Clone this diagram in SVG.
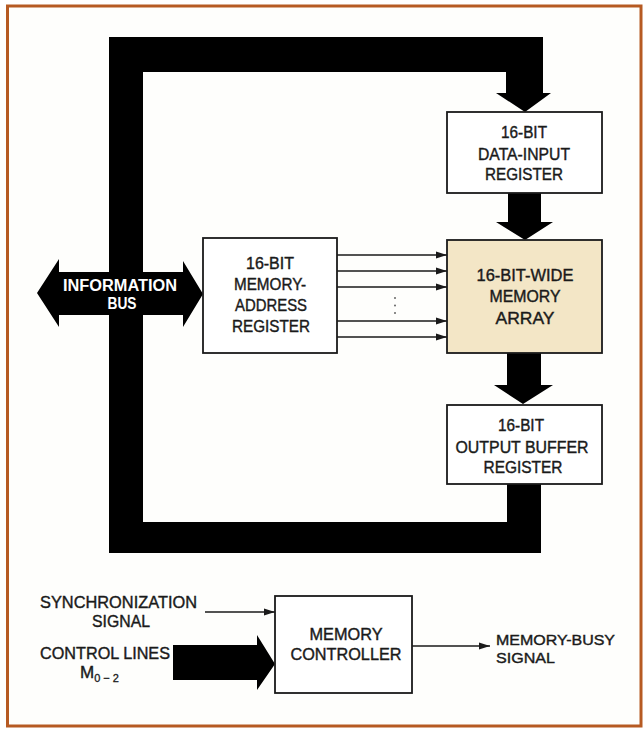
<svg xmlns="http://www.w3.org/2000/svg" width="643" height="730" viewBox="0 0 643 730">
  <defs>
    <marker id="ah" markerUnits="userSpaceOnUse" markerWidth="12" markerHeight="8" refX="11" refY="4" orient="auto">
      <path d="M0,0.5 L11,4 L0,7.5 Z" fill="#1a1a1a"/>
    </marker>
    <style>
      .box { fill: #ffffff; stroke: #1a1a1a; stroke-width: 1.8; }
      .beige { fill: #f3e6c6; }
      .t { font-family: "Liberation Sans", Arial, sans-serif; font-size: 17px; fill: #1a1a1a; stroke: #1a1a1a; stroke-width: 0.4; text-anchor: middle; }
      .tl { text-anchor: start; }
      .sm { font-size: 15px; }
      .w { font-family: "Liberation Sans", Arial, sans-serif; font-size: 16px; font-weight: bold; fill: #ffffff; text-anchor: middle; }
      .thin { stroke: #1a1a1a; stroke-width: 1.6; fill: none; marker-end: url(#ah); }
      .bus { fill: #000000; }
    </style>
  </defs>

  <rect x="0" y="0" width="643" height="730" fill="#ffffff"/>
  <rect x="7.5" y="6" width="633.5" height="720" fill="#fefefc" stroke="#b65a22" stroke-width="3"/>

  <g id="connectors">
    <path class="bus" d="M109,37 H543 V93 H551 L525,112 L496,93 H506 V72 H143 V522 H507 V484 H541 V553 H109 Z"/>
    <path class="bus" d="M508,193 H541 V222 H553 L525,240 L496,222 H508 Z"/>
    <path class="bus" d="M507,353 H541 V385 H553 L523,404 L494,385 H507 Z"/>
    <path class="bus" d="M173,645 H257 V635 L275,664 L257,690 V680 H173 Z"/>
    <line class="thin" x1="337" y1="255" x2="447" y2="255"/>
    <line class="thin" x1="337" y1="271" x2="447" y2="271"/>
    <line class="thin" x1="337" y1="287" x2="447" y2="287"/>
    <line class="thin" x1="337" y1="321" x2="447" y2="321"/>
    <line class="thin" x1="337" y1="337" x2="447" y2="337"/>
    <circle cx="395" cy="298" r="1" fill="#666"/>
    <circle cx="395" cy="305.5" r="1" fill="#666"/>
    <circle cx="395" cy="313" r="1" fill="#666"/>
    <line class="thin" x1="205" y1="612" x2="275" y2="612"/>
    <line class="thin" x1="412" y1="646" x2="490" y2="646"/>
  </g>

  <g id="information-bus">
    <path class="bus" d="M37,293 L59,259 V272 H183 V261 L203,294 L183,327 V315 H59 V327 Z"/>
    <text class="w" x="120" y="291" textLength="114" lengthAdjust="spacingAndGlyphs">INFORMATION</text>
    <text class="w" x="122" y="309" textLength="29" lengthAdjust="spacingAndGlyphs">BUS</text>
  </g>

  <g id="data-input-register">
    <rect class="box" x="447" y="112" width="155" height="81"/>
    <text class="t" x="524" y="138" textLength="46" lengthAdjust="spacingAndGlyphs">16-BIT</text>
    <text class="t" x="524" y="160" textLength="92" lengthAdjust="spacingAndGlyphs">DATA-INPUT</text>
    <text class="t" x="524" y="180" textLength="78" lengthAdjust="spacingAndGlyphs">REGISTER</text>
  </g>

  <g id="memory-address-register">
    <rect class="box" x="203" y="238" width="134" height="115"/>
    <text class="t" x="270" y="269" textLength="48" lengthAdjust="spacingAndGlyphs">16-BIT</text>
    <text class="t" x="270" y="290" textLength="72" lengthAdjust="spacingAndGlyphs">MEMORY-</text>
    <text class="t" x="271" y="311" textLength="72" lengthAdjust="spacingAndGlyphs">ADDRESS</text>
    <text class="t" x="271" y="332" textLength="78" lengthAdjust="spacingAndGlyphs">REGISTER</text>
  </g>

  <g id="memory-array">
    <rect class="box beige" x="447" y="240" width="155" height="113"/>
    <text class="t" x="525" y="281" textLength="97" lengthAdjust="spacingAndGlyphs">16-BIT-WIDE</text>
    <text class="t" x="525" y="302" textLength="71" lengthAdjust="spacingAndGlyphs">MEMORY</text>
    <text class="t" x="525" y="324" textLength="59" lengthAdjust="spacingAndGlyphs">ARRAY</text>
  </g>

  <g id="output-buffer-register">
    <rect class="box" x="447" y="405" width="155" height="79"/>
    <text class="t" x="521" y="431" textLength="46" lengthAdjust="spacingAndGlyphs">16-BIT</text>
    <text class="t" x="522" y="453" textLength="133" lengthAdjust="spacingAndGlyphs">OUTPUT BUFFER</text>
    <text class="t" x="523" y="473" textLength="79" lengthAdjust="spacingAndGlyphs">REGISTER</text>
  </g>

  <g id="memory-controller">
    <rect class="box" x="275" y="596" width="137" height="97"/>
    <text class="t" x="346" y="640" textLength="73" lengthAdjust="spacingAndGlyphs">MEMORY</text>
    <text class="t" x="346" y="660" textLength="111" lengthAdjust="spacingAndGlyphs">CONTROLLER</text>
  </g>

  <g id="synchronization-signal">
    <text class="t" x="118.5" y="608" textLength="157" lengthAdjust="spacingAndGlyphs">SYNCHRONIZATION</text>
    <text class="t" x="121" y="627" textLength="58" lengthAdjust="spacingAndGlyphs">SIGNAL</text>
  </g>

  <g id="control-lines">
    <text class="t" x="105" y="659" textLength="130" lengthAdjust="spacingAndGlyphs">CONTROL LINES</text>
    <text class="t tl" x="80" y="678" font-size="14">M<tspan font-size="11" dy="4" stroke-width="0.3">0 − 2</tspan></text>
  </g>

  <g id="memory-busy-signal">
    <text class="t tl sm" x="496" y="645" textLength="119" lengthAdjust="spacingAndGlyphs">MEMORY-BUSY</text>
    <text class="t tl sm" x="496" y="662.5" textLength="59" lengthAdjust="spacingAndGlyphs">SIGNAL</text>
  </g>
</svg>
